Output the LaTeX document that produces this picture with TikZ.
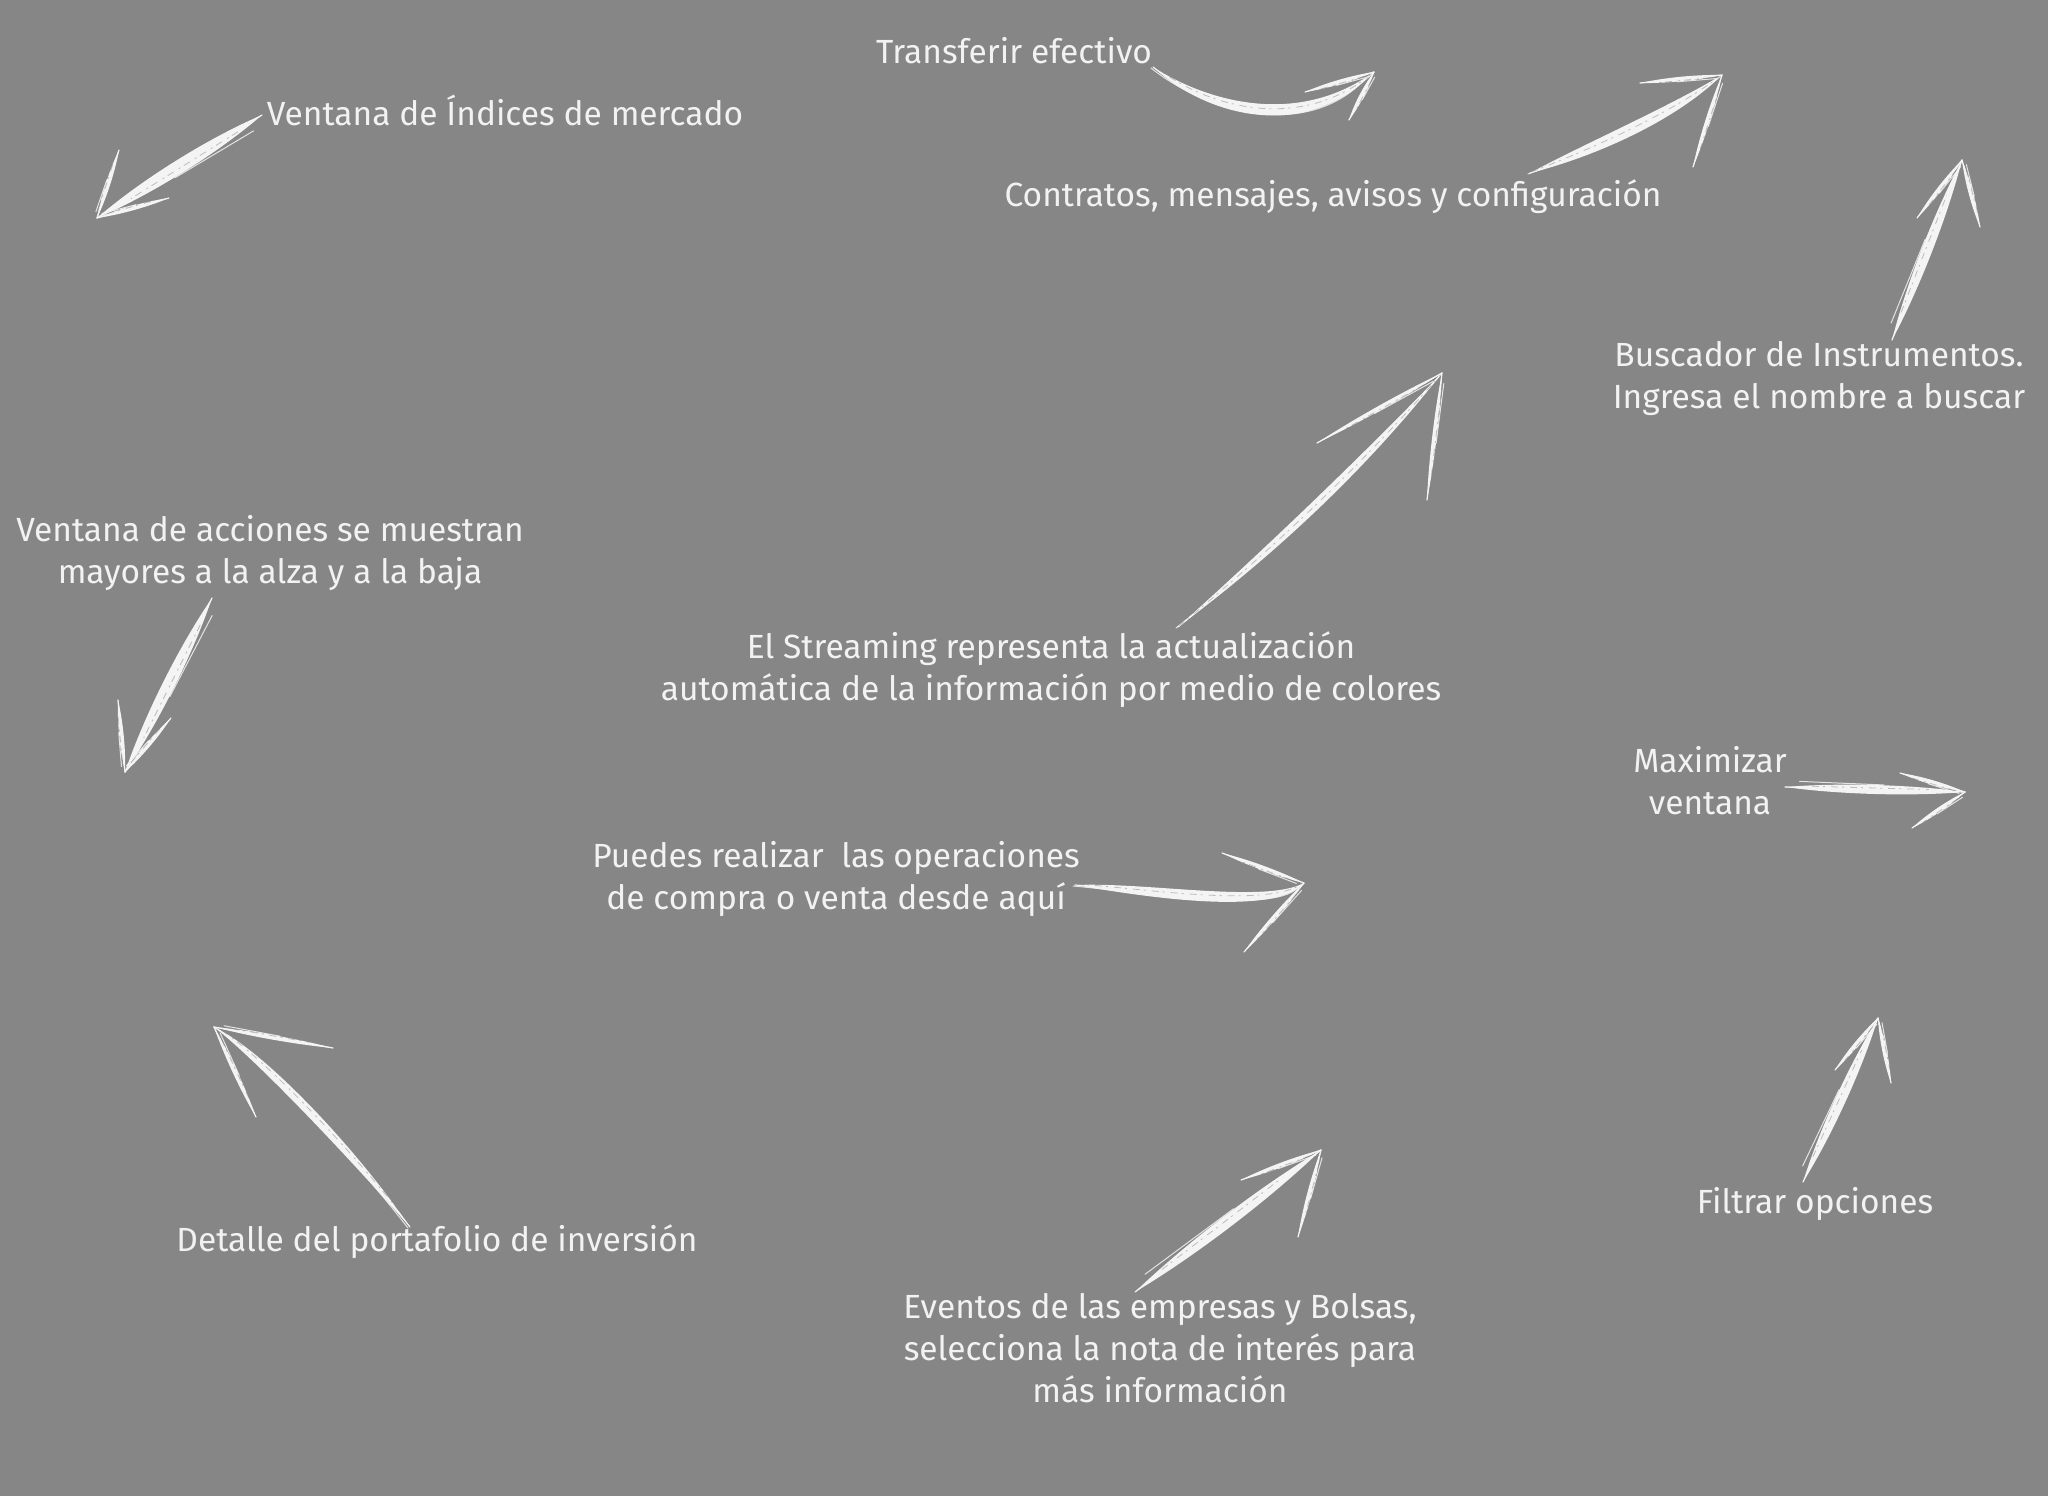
\documentclass[tikz,border=0pt]{standalone}
\usepackage{fontspec}
\setmainfont{Fira Sans}
\usetikzlibrary{calc}
\definecolor{bgc}{HTML}{868686}
\definecolor{chalkc}{HTML}{F4F4F4}
\definecolor{txtc}{HTML}{F2F2F2}
\tikzset{
  lbl/.style={text=txtc, font=\fontsize{33.5}{42}\selectfont, align=center, inner sep=0pt},
  chalkfill/.style={fill=chalkc, draw=none},
  chalkthin/.style={draw=chalkc, line width=1.2pt, line cap=round},
  streak/.style={draw=chalkc, opacity=0.85, line width=1pt, line cap=round},
  grain/.style={draw=bgc, opacity=0.5, line width=0.8pt, dash pattern=on 7pt off 4pt on 2pt off 6pt},
}
% straight chalk stroke: start, end, half width
\newcommand\chalkstraight[3]{%
  \fill[chalkfill] (#1) .. controls ($(#1)!0.3!(#2)!#3!90:(#2)$) and ($(#1)!0.7!(#2)!#3!90:(#2)$) .. (#2)
     .. controls ($(#1)!0.7!(#2)!#3!-90:(#2)$) and ($(#1)!0.3!(#2)!#3!-90:(#2)$) .. cycle;
  \draw[chalkthin] (#1) -- (#2);
  \draw[streak] ($(#1)!0.08!(#2)!#3!90:(#2)$) -- ($(#1)!0.55!(#2)!0.8*#3!90:(#2)$);
  \draw[grain] ($(#1)!0.15!(#2)!1.5pt!90:(#2)$) -- ($(#1)!0.8!(#2)!1.5pt!90:(#2)$);
}
% curved chalk stroke: start, c1, c2, end, half width
\newcommand\chalkcurved[5]{%
  \fill[chalkfill] (#1) .. controls ($(#2)!#5!90:(#4)$) and ($(#3)!#5!90:(#4)$) .. (#4)
     .. controls ($(#3)!#5!-90:(#4)$) and ($(#2)!#5!-90:(#4)$) .. cycle;
  \draw[chalkthin] (#1) .. controls (#2) and (#3) .. (#4);
  \draw[streak] ($(#1)+(-2pt,-1pt)$) .. controls ($(#2)+(0pt,-3pt)$) and ($(#3)+(0pt,-3pt)$) .. ($(#4)!0.2!(#3)$);
  \draw[grain] ($(#1)+(1pt,1pt)$) .. controls ($(#2)+(1pt,1pt)$) and ($(#3)+(1pt,1pt)$) .. ($(#4)+(1pt,1pt)$);
}
\begin{document}
\begin{tikzpicture}[x=1pt,y=-1pt]
\fill[bgc] (0,0) rectangle (2048,1496);
\useasboundingbox (0,0) rectangle (2048,1496);

% labels
\node[lbl] (n1) at (1014,51) {Transferir efectivo};
\node[lbl] (n2) at (505,110) {Ventana de Índices de mercado};
\node[lbl] (n3) at (1333,197) {Contratos, mensajes, avisos y configuración};
\node[lbl] (n4) at (1819,379) {Buscador de Instrumentos.\\Ingresa el nombre a buscar};
\node[lbl] (n5) at (270,553) {Ventana de acciones se muestran\\mayores a la alza y a la baja};
\node[lbl] (n6) at (1051,670) {El Streaming representa la actualización\\automática de la información por medio de colores};
\node[lbl] (n7) at (1710,781) {Maximizar\\ventana};
\node[lbl] (n8) at (836,879) {Puedes realizar\ \ las operaciones\\de compra o venta desde aquí};
\node[lbl] (n9) at (437,1242) {Detalle del portafolio de inversión};
\node[lbl] (n10) at (1160,1348) {Eventos de las empresas y Bolsas,\\selecciona la nota de interés para\\más información};
\node[lbl] (n11) at (1815,1204) {Filtrar opciones};

% arrow coordinates
\coordinate (s1) at (1153,67);  \coordinate (t1) at (1374,72);  \coordinate (b1a) at (1305,92);  \coordinate (b1b) at (1349,120);
\coordinate (s2) at (1530,173); \coordinate (t2) at (1722,75);  \coordinate (b2a) at (1640,83);  \coordinate (b2b) at (1693,167);
\coordinate (s3) at (262,115);  \coordinate (t3) at (97,218);   \coordinate (b3a) at (119,150);  \coordinate (b3b) at (169,198);
\coordinate (s4) at (1892,340); \coordinate (t4) at (1962,160); \coordinate (b4a) at (1917,218); \coordinate (b4b) at (1980,227);
\coordinate (s5) at (1178,627); \coordinate (t5) at (1442,373); \coordinate (b5a) at (1317,443); \coordinate (b5b) at (1427,500);
\coordinate (s6) at (212,598);  \coordinate (t6) at (125,772);  \coordinate (b6a) at (118,700);  \coordinate (b6b) at (171,718);
\coordinate (s7) at (1785,787); \coordinate (t7) at (1965,792); \coordinate (b7a) at (1900,773); \coordinate (b7b) at (1912,828);
\coordinate (s8) at (1075,885); \coordinate (t8) at (1304,883); \coordinate (b8a) at (1222,853); \coordinate (b8b) at (1244,952);
\coordinate (s9) at (410,1227); \coordinate (t9) at (214,1027); \coordinate (b9a) at (333,1048); \coordinate (b9b) at (256,1117);
\coordinate (s10) at (1135,1292); \coordinate (t10) at (1321,1150); \coordinate (b10a) at (1241,1180); \coordinate (b10b) at (1298,1237);
\coordinate (s11) at (1803,1182); \coordinate (t11) at (1878,1018); \coordinate (b11a) at (1835,1070); \coordinate (b11b) at (1891,1083);

% control points for curved shafts
\coordinate (c1a) at (1205,108); \coordinate (c1b) at (1300,136);
\coordinate (c2a) at (1590,150); \coordinate (c2b) at (1670,115);
\coordinate (c5a) at (1278,545); \coordinate (c5b) at (1366,460);
\coordinate (c8a) at (1150,890); \coordinate (c8b) at (1270,910);
\coordinate (c9a) at (350,1150); \coordinate (c9b) at (260,1055);

% arrows
\chalkcurved{s1}{c1a}{c1b}{t1}{9pt}
\chalkstraight{t1}{b1a}{3pt} \chalkstraight{t1}{b1b}{3pt}

\chalkcurved{s2}{c2a}{c2b}{t2}{8pt}
\chalkstraight{t2}{b2a}{3pt} \chalkstraight{t2}{b2b}{3pt}

\chalkstraight{s3}{t3}{9pt}
\chalkstraight{t3}{b3a}{3pt} \chalkstraight{t3}{b3b}{3pt}

\chalkstraight{s4}{t4}{7pt}
\chalkstraight{t4}{b4a}{3pt} \chalkstraight{t4}{b4b}{3pt}

\chalkcurved{s5}{c5a}{c5b}{t5}{6pt}
\chalkstraight{t5}{b5a}{3pt} \chalkstraight{t5}{b5b}{3pt}

\chalkstraight{s6}{t6}{8pt}
\chalkstraight{t6}{b6a}{3pt} \chalkstraight{t6}{b6b}{3pt}

\chalkstraight{s7}{t7}{6pt}
\chalkstraight{t7}{b7a}{3pt} \chalkstraight{t7}{b7b}{3pt}

\chalkcurved{s8}{c8a}{c8b}{t8}{8pt}
\chalkstraight{t8}{b8a}{3pt} \chalkstraight{t8}{b8b}{3pt}

\chalkcurved{s9}{c9a}{c9b}{t9}{6pt}
\chalkstraight{t9}{b9a}{3pt} \chalkstraight{t9}{b9b}{3pt}

\chalkstraight{s10}{t10}{8pt}
\chalkstraight{t10}{b10a}{3pt} \chalkstraight{t10}{b10b}{3pt}

\chalkstraight{s11}{t11}{7pt}
\chalkstraight{t11}{b11a}{3pt} \chalkstraight{t11}{b11b}{3pt}
\end{tikzpicture}
\end{document}
